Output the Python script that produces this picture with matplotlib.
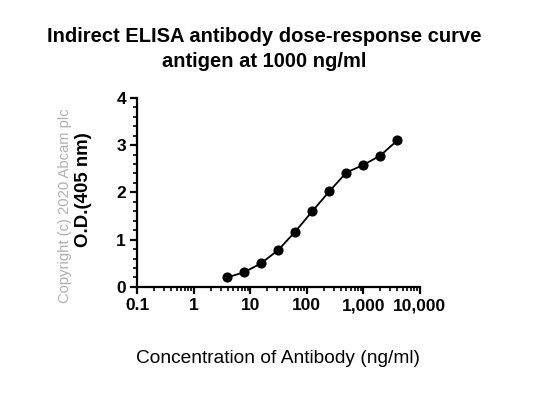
import numpy as np
import matplotlib.pyplot as plt
from matplotlib.ticker import FixedLocator, MultipleLocator, LogLocator, NullFormatter

plt.rcParams['font.family'] = ['Liberation Sans', 'DejaVu Sans']

# antibody dilution series (ng/ml) and measured O.D.
conc = [3.9, 7.8, 15.6, 31.25, 62.5, 125, 250, 500, 1000, 2000, 4000]
od = [0.20, 0.31, 0.50, 0.78, 1.17, 1.60, 2.02, 2.42, 2.58, 2.78, 3.10]

x_ticks = [0.1, 1, 10, 100, 1000, 10000]
x_labels = ['0.1', '1', '10', '100', '1,000', '10,000']

fig = plt.figure(figsize=(5.51, 3.93), dpi=100)
ax = fig.add_axes([0.249, 0.270, 0.513, 0.481])

ax.plot(conc, od, color='black', lw=1.3, marker='o', ms=6.3)
ax.set_xscale('log')
ax.set_xlim(0.1, 10000)
ax.set_ylim(0, 4)

ax.xaxis.set_major_locator(FixedLocator(x_ticks))
ax.set_xticklabels(x_labels)
ax.xaxis.set_minor_locator(LogLocator(base=10, subs=np.arange(2, 10), numticks=20))
ax.xaxis.set_minor_formatter(NullFormatter())
ax.yaxis.set_major_locator(MultipleLocator(1))
ax.yaxis.set_minor_locator(MultipleLocator(0.2))

for s in ['top', 'right']:
    ax.spines[s].set_visible(False)
for s in ['left', 'bottom']:
    ax.spines[s].set_linewidth(1.6)
ax.tick_params(which='major', length=5, width=1.6, labelsize=12.5, pad=3)
ax.tick_params(which='minor', length=3, width=1.2)
for lab in ax.get_xticklabels() + ax.get_yticklabels():
    lab.set_fontweight('bold')

ax.set_ylabel('O.D.(405 nm)', fontsize=13.4, fontweight='bold', va='center')
ax.yaxis.set_label_coords(-0.19, 0.513)
fig.text(0.505, 0.089, 'Concentration of Antibody (ng/ml)', ha='center', va='center', fontsize=13.8)
fig.text(0.48, 0.906, 'Indirect ELISA antibody dose-response curve', ha='center', va='center',
         fontsize=14.5, fontweight='bold')
fig.text(0.48, 0.843, 'antigen at 1000 ng/ml', ha='center', va='center',
         fontsize=14.5, fontweight='bold')
fig.text(0.118, 0.476, 'Copyright (c) 2020 Abcam plc', rotation=90, ha='center', va='center',
         fontsize=10.6, color='#b0b0b0')

fig.savefig('out.png', dpi=100)
